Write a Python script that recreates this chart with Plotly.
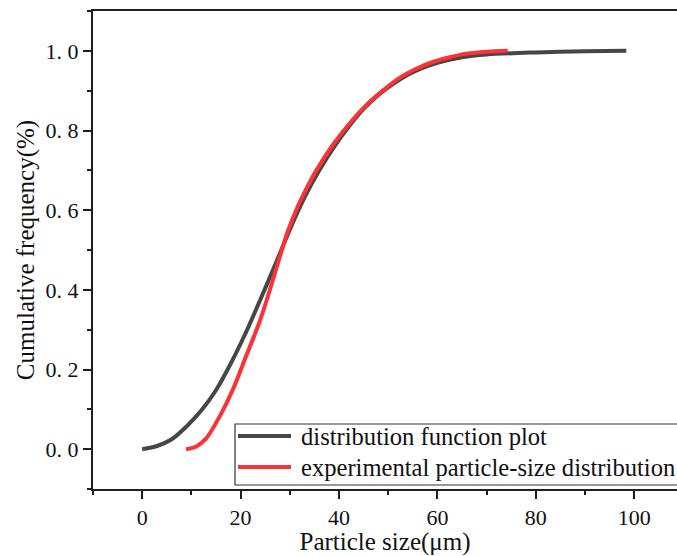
import plotly.graph_objects as go

# Fitted cumulative distribution (particle size in µm vs cumulative fraction)
fit_size = [0, 3, 6, 9, 12, 15, 18, 21, 24, 27, 30, 33, 36, 39, 42, 45, 48, 51,
            54, 57, 60, 65, 70, 80, 90, 98.4]
fit_cum = [0, 0.008, 0.025, 0.057, 0.097, 0.148, 0.215, 0.291, 0.375, 0.462, 0.551,
           0.632, 0.7, 0.759, 0.81, 0.854, 0.889, 0.917, 0.94, 0.957, 0.97,
           0.984, 0.991, 0.996, 0.999, 1.0]

# Measured cumulative particle-size distribution
exp_size = [8.9, 10.9, 13, 15.7, 18.4, 21.1, 23.8, 25.5, 27.5, 29.6, 31.5, 33.5,
            35.3, 38.7, 42.1, 45.5, 48.9, 52.3, 55.7, 59.1, 62.5, 65.9, 70, 74.3]
exp_cum = [0, 0.006, 0.027, 0.081, 0.149, 0.233, 0.318, 0.382, 0.464, 0.547, 0.606,
           0.657, 0.698, 0.763, 0.817, 0.863, 0.90, 0.932, 0.955, 0.972, 0.984,
           0.993, 0.998, 1.0]

x_ticks = [0, 20, 40, 60, 80, 100]
y_ticks = [0.0, 0.2, 0.4, 0.6, 0.8, 1.0]
y_ticktext = ["0. 0", "0. 2", "0. 4", "0. 6", "0. 8", "1. 0"]

series_names = ["distribution function plot", "experimental particle-size distribution"]
series_colors = ["#464646", "#fb3236"]

FONT = "Liberation Serif"
W, H = 677, 556
ML, MR, MT, MB = 93, 0, 11, 67

fig = go.Figure()
fig.add_trace(go.Scatter(x=fit_size, y=fit_cum, mode="lines", name=series_names[0],
                         line=dict(color=series_colors[0], width=4, shape="spline", smoothing=0.8),
                         showlegend=False))
fig.add_trace(go.Scatter(x=exp_size, y=exp_cum, mode="lines", name=series_names[1],
                         line=dict(color=series_colors[1], width=4, shape="spline", smoothing=0.8),
                         showlegend=False))

axis_common = dict(showline=True, linewidth=2, linecolor="#1e1e1e", showgrid=False,
                   zeroline=False, ticks="outside", ticklen=8, tickwidth=1.5,
                   tickcolor="#1e1e1e", tickfont=dict(family=FONT, size=22, color="#111"))

fig.update_xaxes(range=[-10, 108.7], tickvals=x_ticks, mirror=True,
                 minor=dict(dtick=10, tick0=0, ticks="outside", ticklen=4, tickwidth=1.5,
                            tickcolor="#1e1e1e"),
                 title=dict(text="Particle size(μm)", font=dict(family=FONT, size=25, color="#111"),
                            standoff=0),
                 **axis_common)
fig.update_yaxes(range=[-0.1, 1.1], tickvals=y_ticks, ticktext=y_ticktext, mirror=False,
                 minor=dict(dtick=0.1, tick0=0, ticks="outside", ticklen=4, tickwidth=1.5,
                            tickcolor="#1e1e1e"),
                 title=dict(text="Cumulative frequency(%)", font=dict(family=FONT, size=25, color="#111"),
                            standoff=4),
                 **axis_common)

# Legend box drawn in paper coordinates
pw = W - ML - MR
ph = H - MT - MB
def px_x(p):
    return (p - ML) / pw
def px_y(p):
    return (H - MB - p) / ph

fig.add_shape(type="rect", xref="paper", yref="paper",
              x0=px_x(235), x1=px_x(700), y0=px_y(485), y1=px_y(424),
              line=dict(color="#333", width=1.2), fillcolor="white", layer="above")
for i, (name, color) in enumerate(zip(series_names, series_colors)):
    yc = px_y(436 + 31 * i)
    fig.add_shape(type="line", xref="paper", yref="paper",
                  x0=px_x(238), x1=px_x(291), y0=yc, y1=yc,
                  line=dict(color=color, width=4), layer="above")
    fig.add_annotation(xref="paper", yref="paper", x=px_x(299), y=yc, text=name,
                       showarrow=False, xanchor="left", yanchor="middle",
                       font=dict(family=FONT, size=24.6, color="#111"))

fig.update_layout(width=W, height=H, margin=dict(l=ML, r=MR, t=MT, b=MB),
                  paper_bgcolor="white", plot_bgcolor="white")

fig.write_html("out.html")
